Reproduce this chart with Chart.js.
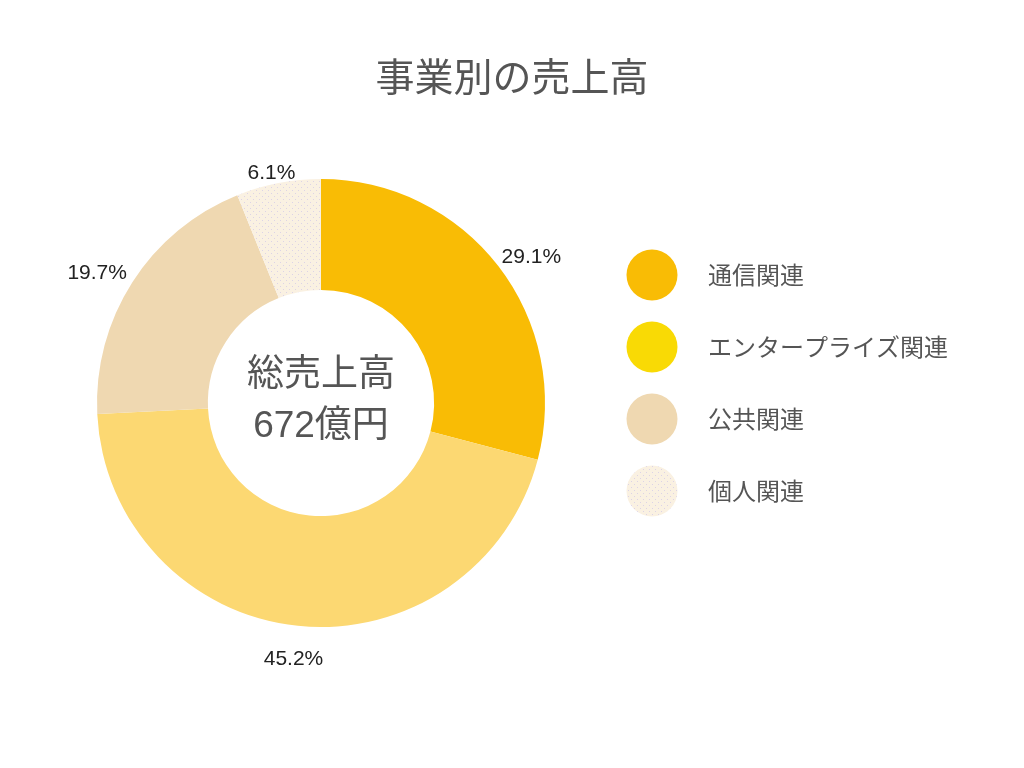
<!DOCTYPE html>
<html>
<head>
<meta charset="utf-8">
<script src="https://cdn.jsdelivr.net/npm/chart.js@4"></script>
<style>
html,body{margin:0;padding:0;background:#fff;}
#wrap{width:1024px;height:768px;position:relative;}
</style>
</head>
<body>
<div id="wrap"><canvas id="c" width="1024" height="768"></canvas></div>
<script>
const titleText = '事業別の売上高';
const categories = ['通信関連', 'エンタープライズ関連', '公共関連', '個人関連'];
const shares = [29.1, 45.2, 19.7, 6.1];
const sliceColors = ['#F9BC05', '#FCD872', '#EFD8B1', null];
const legendColors = ['#F9BC05', '#F9DA05', '#EFD8B1', null];
const centerLines = ['総売上高', '672億円'];

const JP = '"Noto Sans CJK JP", "Noto Sans", sans-serif';
const MIX = '"Liberation Sans", "Noto Sans CJK JP", sans-serif';

function dotPattern() {
  const pc = document.createElement('canvas');
  pc.width = 6; pc.height = 6;
  const g = pc.getContext('2d');
  g.fillStyle = '#FAF1E2';
  g.fillRect(0, 0, 6, 6);
  g.fillStyle = '#DCD3E6';
  g.fillRect(1, 1, 1, 1);
  g.fillRect(4, 4, 1, 1);
  return g.createPattern(pc, 'repeat');
}
const ctx0 = document.getElementById('c').getContext('2d');
const pat = dotPattern();
const fills = sliceColors.map(c => c || pat);
const legendFills = legendColors.map(c => c || pat);

const overlay = {
  id: 'overlay',
  afterDraw(chart) {
    const ctx = chart.ctx;
    const meta = chart.getDatasetMeta(0);
    const arc0 = meta.data[0];
    const cx = arc0.x, cy = arc0.y, R = arc0.outerRadius;
    ctx.save();
    // title
    ctx.fillStyle = '#555555';
    ctx.font = '39px ' + JP;
    ctx.textAlign = 'center';
    ctx.textBaseline = 'middle';
    ctx.fillText(titleText, 512, 76);
    // center text
    ctx.font = '37px ' + MIX;
    ctx.fillText(centerLines[0], cx, cy - 27);
    ctx.fillText(centerLines[1], cx, cy + 24);
    // percentage labels
    ctx.font = '21px "Liberation Sans", Arial, sans-serif';
    ctx.fillStyle = '#222222';
    meta.data.forEach((arc, i) => {
      const mid = (arc.startAngle + arc.endAngle) / 2;
      const r = R + 12;
      const c = Math.cos(mid), s = Math.sin(mid);
      const ax = cx + c * r;
      const ay = cy + s * r;
      const txt = shares[i].toFixed(1) + '%';
      const w = ctx.measureText(txt).width;
      const h = 20;
      const tx = ax + c * w / 2;
      const ty = ay + s * h / 2 + 6 + 20 * Math.abs(s) - 14;
      ctx.fillText(txt, tx, ty);
    });
    // legend
    ctx.textAlign = 'left';
    ctx.font = '24px ' + JP;
    categories.forEach((name, i) => {
      const y = 275 + i * 72;
      ctx.beginPath();
      ctx.arc(652, y, 25.5, 0, Math.PI * 2);
      ctx.fillStyle = legendFills[i];
      ctx.fill();
      ctx.fillStyle = '#555555';
      ctx.fillText(name, 708, y);
    });
    ctx.restore();
  }
};

new Chart(ctx0, {
  type: 'doughnut',
  data: {
    labels: categories,
    datasets: [{
      data: shares,
      backgroundColor: fills,
      borderWidth: 0,
      hoverOffset: 0
    }]
  },
  options: {
    responsive: false,
    animation: false,
    cutout: '50.5%',
    layout: { padding: { left: 97, right: 479, top: 179, bottom: 141 } },
    plugins: {
      legend: { display: false },
      title: { display: false },
      tooltip: { enabled: false }
    }
  },
  plugins: [overlay]
});
</script>
</body>
</html>
